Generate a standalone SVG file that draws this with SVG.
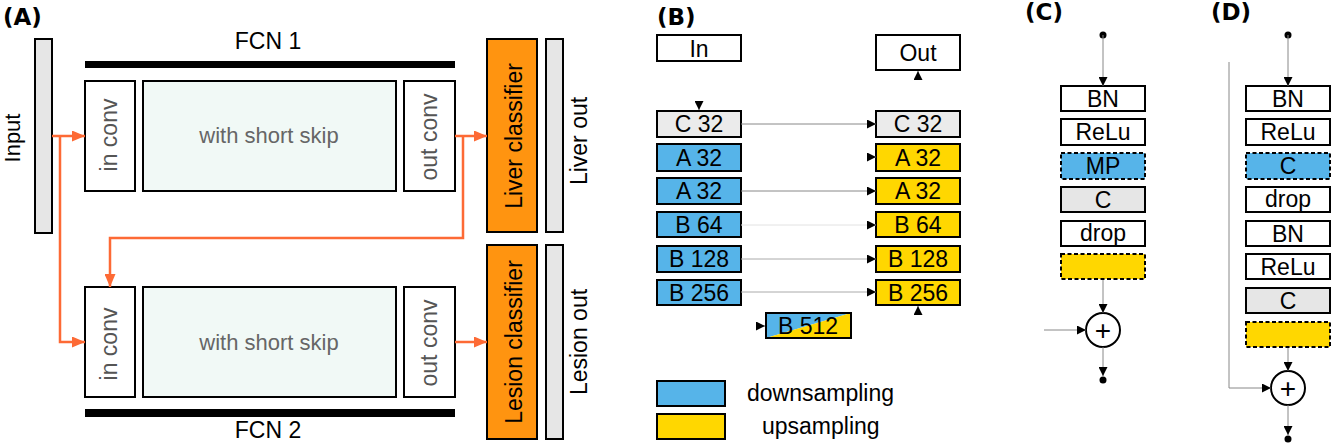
<svg xmlns="http://www.w3.org/2000/svg" width="1332" height="444" viewBox="0 0 1332 444">
<defs>
<style>
text{font-family:"Liberation Sans",Arial,sans-serif;font-size:23px;fill:#000}
.ttl{font-family:"DejaVu Sans","Liberation Sans",sans-serif;font-weight:bold;font-size:23px}
.mid{text-anchor:middle}
.box{stroke:#000;stroke-width:2}
.white{fill:#fff}
.grey{fill:#e6e6e6}
.mint{fill:#f1f9f6}
.orangeF{fill:#ff9410}
.blue{fill:#56b4e9}
.yellow{fill:#ffd700}
.dash{stroke-dasharray:4,2.5}
.skip{fill:#666;font-size:22px}
.gt{fill:#555}
.ol{fill:none;stroke:#fd6a35;stroke-width:2.5}
.gl{fill:none;stroke:#888;stroke-width:1}
</style>
<marker id="oa" markerUnits="userSpaceOnUse" markerWidth="13" markerHeight="11" refX="13" refY="5.5" orient="auto"><path d="M0,0 L13,5.5 L0,11 z" fill="#fd6a35"/></marker>
<marker id="ba" markerUnits="userSpaceOnUse" markerWidth="9" markerHeight="9" refX="9" refY="4.5" orient="auto"><path d="M0,0 L9,4.5 L0,9 z" fill="#000"/></marker>
</defs>
<rect width="1332" height="444" fill="#fff"/>

<!-- Panel A -->
<text class="ttl" x="3" y="25">(A)</text>
<g id="input"><rect class="box grey" x="35" y="39" width="17" height="194"/><text class="mid" transform="rotate(-90 20 138)" x="20" y="138" style="font-size:22px">Input</text></g>
<g id="fcn1">
<text class="mid" x="268" y="49">FCN 1</text>
<rect x="85" y="61" width="370" height="7" fill="#000"/>
<g id="inconv1"><rect class="box white" x="85" y="81" width="50" height="110"/><text class="mid gt" transform="rotate(-90 117 135)" x="117" y="135">in conv</text></g>
<g id="skip1"><rect class="box mint" x="143" y="81" width="253" height="110"/><text class="mid skip" x="269" y="143">with short skip</text></g>
<g id="outconv1"><rect class="box white" x="404" y="81" width="51" height="110"/><text class="mid gt" transform="rotate(-90 437 137)" x="437" y="137">out conv</text></g>
</g>
<g id="fcn2">
<g id="inconv2"><rect class="box white" x="85" y="287" width="50" height="110"/><text class="mid gt" transform="rotate(-90 117 344)" x="117" y="344">in conv</text></g>
<g id="skip2"><rect class="box mint" x="143" y="287" width="253" height="110"/><text class="mid skip" x="269" y="350">with short skip</text></g>
<g id="outconv2"><rect class="box white" x="404" y="287" width="51" height="110"/><text class="mid gt" transform="rotate(-90 437 343)" x="437" y="343">out conv</text></g>
<rect x="85" y="409" width="370" height="8" fill="#000"/>
<text class="mid" x="268" y="438">FCN 2</text>
</g>
<g id="liverclf"><rect class="box orangeF" x="487" y="39" width="50" height="193"/><text class="mid" transform="rotate(-90 522 136)" x="522" y="136">Liver classifier</text></g>
<g id="lesionclf"><rect class="box orangeF" x="487" y="245" width="50" height="194"/><text class="mid" transform="rotate(-90 522 342)" x="522" y="342">Lesion classifier</text></g>
<g id="liverout"><rect class="box grey" x="546" y="39" width="17" height="193"/><text class="mid" transform="rotate(-90 587 141)" x="587" y="141">Liver out</text></g>
<g id="lesionout"><rect class="box grey" x="546" y="245" width="17" height="194"/><text class="mid" transform="rotate(-90 587 342)" x="587" y="342">Lesion out</text></g>

<g id="connectors-A">
<path class="ol" d="M52,136 L85,136" marker-end="url(#oa)"/>
<path class="ol" d="M60,136 L60,342 L85,342" marker-end="url(#oa)"/>
<path class="ol" d="M455,136 L487,136" marker-end="url(#oa)"/>
<path class="ol" d="M463,136 L463,238 L110,238 L110,287" marker-end="url(#oa)"/>
<path class="ol" d="M455,342 L487,342" marker-end="url(#oa)"/>
</g>

<!-- Panel B -->
<text class="ttl" x="657" y="25">(B)</text>
<g id="in"><rect class="box white" x="657" y="35" width="84" height="26"/><text class="mid" x="699" y="57">In</text></g>
<g id="out"><rect class="box white" x="876" y="35" width="84" height="35"/><text class="mid" x="918" y="61">Out</text></g>
<g id="l-c32"><rect class="box" fill="#ebebeb" x="657" y="111" width="84" height="26"/><text class="mid" x="699" y="132">C 32</text></g>
<g id="l-a32a"><rect class="box blue" x="657" y="144" width="84" height="27"/><text class="mid" x="699" y="166">A 32</text></g>
<g id="l-a32b"><rect class="box blue" x="657" y="178" width="84" height="26"/><text class="mid" x="699" y="199">A 32</text></g>
<g id="l-b64"><rect class="box blue" x="657" y="212" width="84" height="25"/><text class="mid" x="699" y="233">B 64</text></g>
<g id="l-b128"><rect class="box blue" x="657" y="246" width="84" height="26"/><text class="mid" x="699" y="267">B 128</text></g>
<g id="l-b256"><rect class="box blue" x="657" y="280" width="84" height="25"/><text class="mid" x="699" y="301">B 256</text></g>
<g id="r-c32"><rect class="box" fill="#ebebeb" x="876" y="111" width="84" height="26"/><text class="mid" x="918" y="132">C 32</text></g>
<g id="r-a32a"><rect class="box yellow" x="876" y="144" width="84" height="27"/><text class="mid" x="918" y="166">A 32</text></g>
<g id="r-a32b"><rect class="box yellow" x="876" y="178" width="84" height="26"/><text class="mid" x="918" y="199">A 32</text></g>
<g id="r-b64"><rect class="box yellow" x="876" y="212" width="84" height="25"/><text class="mid" x="918" y="233">B 64</text></g>
<g id="r-b128"><rect class="box yellow" x="876" y="246" width="84" height="26"/><text class="mid" x="918" y="267">B 128</text></g>
<g id="r-b256"><rect class="box yellow" x="876" y="280" width="84" height="25"/><text class="mid" x="918" y="301">B 256</text></g>
<g id="b512">
<polygon class="blue" points="766,313 851,313 766,338"/>
<polygon class="yellow" points="851,313 851,338 766,338"/>
<rect x="766" y="313" width="85" height="25" fill="none" stroke="#000" stroke-width="2"/>
<text class="mid" x="808" y="334">B 512</text>
</g>
<g id="connectors-B">
<path class="gl" d="M741,124 L876,124" marker-end="url(#ba)"/>
<path class="gl" d="M867,157 L876,157" marker-end="url(#ba)"/>
<path class="gl" d="M741,191 L876,191" marker-end="url(#ba)"/>
<path class="gl" d="M741,225 L876,225" style="stroke:#e2e2e2" marker-end="url(#ba)"/>
<path class="gl" d="M741,259 L876,259" style="stroke:#aaa" marker-end="url(#ba)"/>
<path class="gl" d="M741,292 L876,292" style="stroke:#aaa" marker-end="url(#ba)"/>
<path class="gl" d="M699,101 L699,110" marker-end="url(#ba)"/>
<path class="gl" d="M918,80 L918,71" marker-end="url(#ba)"/>
<path class="gl" d="M918,315 L918,306" marker-end="url(#ba)"/>
<path class="gl" d="M756,326 L765,326" marker-end="url(#ba)"/>
</g>
<g id="legend">
<rect class="box blue" x="657" y="381" width="68" height="25"/>
<text x="747" y="401">downsampling</text>
<rect class="box yellow" x="657" y="414" width="68" height="25"/>
<text x="762" y="434">upsampling</text>
</g>

<!-- Panel C -->
<text class="ttl" x="1025" y="20">(C)</text>
<g id="c-bn"><rect class="box white" x="1061" y="86" width="84" height="25"/><text class="mid" x="1103" y="107">BN</text></g>
<g id="c-relu"><rect class="box white" x="1061" y="119" width="84" height="26"/><text class="mid" x="1103" y="140">ReLu</text></g>
<g id="c-mp"><rect class="box blue dash" x="1061" y="153" width="84" height="26"/><text class="mid" x="1103" y="174">MP</text></g>
<g id="c-c"><rect class="box grey" x="1061" y="187" width="84" height="25"/><text class="mid" x="1103" y="208">C</text></g>
<g id="c-drop"><rect class="box white" x="1061" y="221" width="84" height="25"/><text class="mid" x="1103" y="241">drop</text></g>
<g id="c-up"><rect class="box yellow dash" x="1061" y="254" width="84" height="25"/></g>
<g id="c-sum"><circle cx="1103" cy="330" r="17" fill="#fff" stroke="#000" stroke-width="2"/><text class="mid" x="1103" y="340" style="font-size:28px">+</text></g>
<g id="connectors-C">
<circle cx="1103" cy="35" r="3.5" fill="#000"/>
<path class="gl" d="M1103,35 L1103,86" marker-end="url(#ba)"/>
<path class="gl" d="M1103,280 L1103,313" marker-end="url(#ba)"/>
<path class="gl" d="M1044,330 L1086,330" marker-end="url(#ba)"/>
<path class="gl" d="M1103,347 L1103,376" marker-end="url(#ba)"/>
<circle cx="1103" cy="380" r="3.5" fill="#000"/>
</g>

<!-- Panel D -->
<text class="ttl" x="1211" y="20">(D)</text>
<g id="d-bn1"><rect class="box white" x="1246" y="86" width="84" height="25"/><text class="mid" x="1288" y="107">BN</text></g>
<g id="d-relu1"><rect class="box white" x="1246" y="119" width="84" height="26"/><text class="mid" x="1288" y="140">ReLu</text></g>
<g id="d-c1"><rect class="box blue dash" x="1246" y="153" width="84" height="26"/><text class="mid" x="1288" y="174">C</text></g>
<g id="d-drop"><rect class="box white" x="1246" y="187" width="84" height="25"/><text class="mid" x="1288" y="207">drop</text></g>
<g id="d-bn2"><rect class="box white" x="1246" y="221" width="84" height="25"/><text class="mid" x="1288" y="242">BN</text></g>
<g id="d-relu2"><rect class="box white" x="1246" y="254" width="84" height="25"/><text class="mid" x="1288" y="275">ReLu</text></g>
<g id="d-c2"><rect class="box grey" x="1246" y="288" width="84" height="25"/><text class="mid" x="1288" y="309">C</text></g>
<g id="d-up"><rect class="box yellow dash" x="1246" y="322" width="84" height="25"/></g>
<g id="d-sum"><circle cx="1288" cy="388" r="17" fill="#fff" stroke="#000" stroke-width="2"/><text class="mid" x="1288" y="398" style="font-size:28px">+</text></g>
<g id="connectors-D">
<circle cx="1288" cy="35" r="3.5" fill="#000"/>
<path class="gl" d="M1288,35 L1288,86" marker-end="url(#ba)"/>
<path class="gl" d="M1288,348 L1288,371" marker-end="url(#ba)"/>
<path class="gl" d="M1229,62 L1229,388 L1271,388" marker-end="url(#ba)"/>
<path class="gl" d="M1288,405 L1288,435" marker-end="url(#ba)"/>
<circle cx="1288" cy="439" r="3.5" fill="#000"/>
</g>
</svg>
